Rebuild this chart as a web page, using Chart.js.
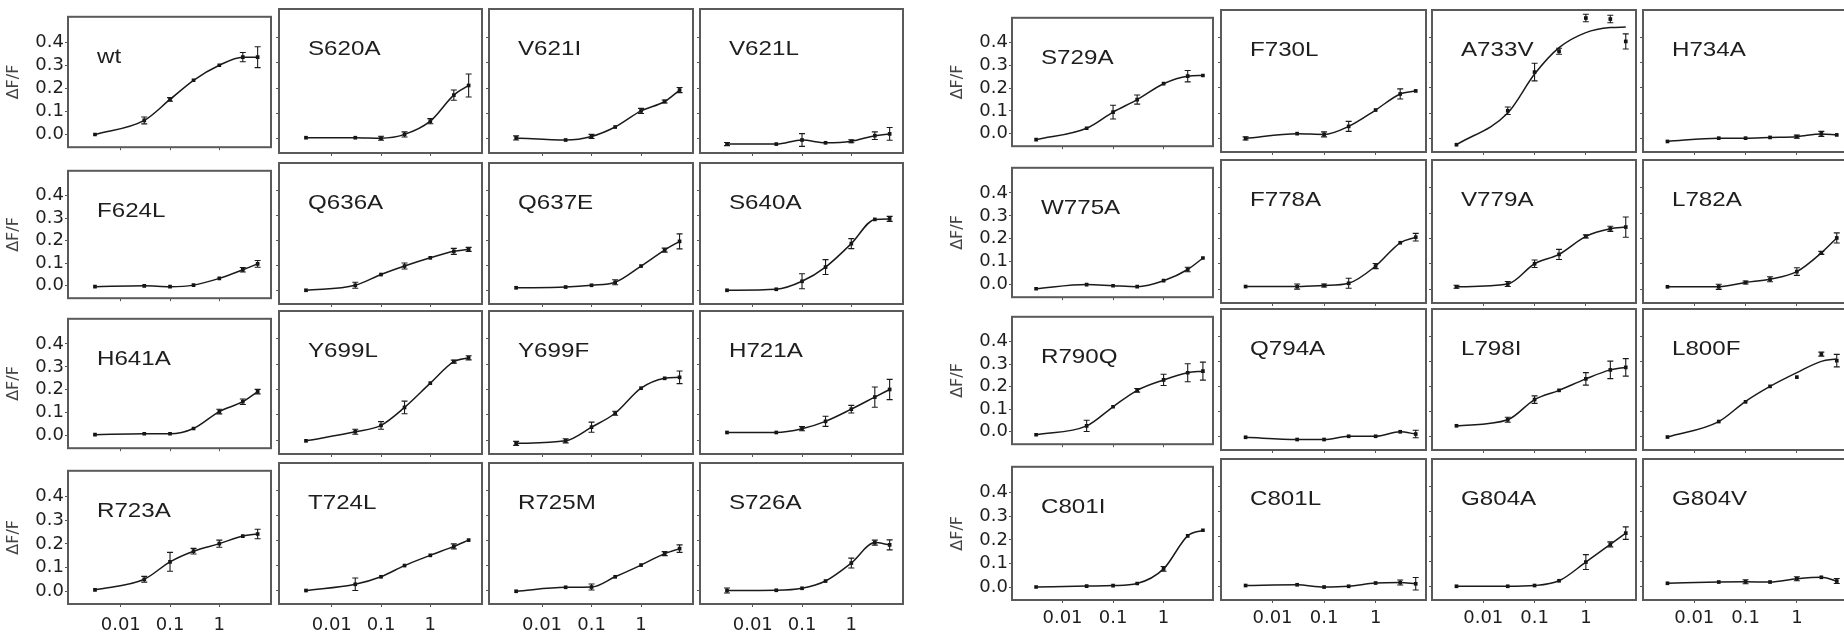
<!DOCTYPE html>
<html>
<head>
<meta charset="utf-8">
<script src="https://cdn.jsdelivr.net/npm/chart.js@4.4.0/dist/chart.umd.min.js"></script>
<style>
  html, body { margin: 0; padding: 0; background: #fff; overflow: hidden; }
  #fig { position: relative; width: 1844px; height: 639px; overflow: hidden; }
  #fig canvas { position: absolute; }
</style>
</head>
<body>
<div id="fig"></div>
<script>
// concentrations (log x axis) and tick labels
const concentrations = [0.003, 0.03, 0.1, 0.3, 1, 3, 6];
const xTickValues = [0.01, 0.1, 1];
const yTickValues = [0, 0.1, 0.2, 0.3, 0.4];

// panel order: left block row by row, then right block row by row
const panelNames = [
  "wt", "S620A", "V621I", "V621L",
  "F624L", "Q636A", "Q637E", "S640A",
  "H641A", "Y699L", "Y699F", "H721A",
  "R723A", "T724L", "R725M", "S726A",
  "S729A", "F730L", "A733V", "H734A",
  "W775A", "F778A", "V779A", "L782A",
  "R790Q", "Q794A", "L798I", "L800F",
  "C801I", "C801L", "G804A", "G804V"
];

// mean dF/F for each panel, one value per concentration
const meanValues = [
  [0.0, 0.061, 0.152, 0.235, 0.30, 0.335, 0.335],
  [0.005, 0.005, 0.003, 0.018, 0.07, 0.172, 0.21],
  [0.004, -0.004, 0.01, 0.047, 0.11, 0.147, 0.192],
  [-0.02, -0.02, -0.004, -0.015, -0.009, 0.013, 0.02],
  [-0.004, 0.0, -0.004, 0.003, 0.033, 0.071, 0.097],
  [0.0, 0.02, 0.063, 0.097, 0.13, 0.156, 0.164],
  [0.01, 0.013, 0.02, 0.032, 0.097, 0.161, 0.196],
  [0.0, 0.004, 0.036, 0.093, 0.187, 0.284, 0.286],
  [0.004, 0.008, 0.008, 0.031, 0.105, 0.148, 0.192],
  [-0.003, 0.033, 0.058, 0.129, 0.225, 0.31, 0.325],
  [-0.013, -0.003, 0.051, 0.106, 0.205, 0.244, 0.248],
  [0.03, 0.03, 0.045, 0.074, 0.122, 0.17, 0.2],
  [0.005, 0.05, 0.124, 0.169, 0.201, 0.233, 0.242],
  [-0.001, 0.024, 0.054, 0.099, 0.14, 0.176, 0.201],
  [-0.004, 0.012, 0.013, 0.054, 0.101, 0.147, 0.167],
  [-0.001, 0.0, 0.008, 0.037, 0.109, 0.191, 0.182],
  [-0.026, 0.024, 0.095, 0.15, 0.22, 0.253, 0.256],
  [-0.001, 0.018, 0.015, 0.047, 0.112, 0.176, 0.188],
  [-0.026, 0.109, 0.263, 0.346, 0.478, 0.474, 0.385],
  [-0.013, 0.0, 0.0, 0.003, 0.006, 0.017, 0.013],
  [-0.018, 0.0, -0.005, -0.009, 0.017, 0.066, 0.116],
  [0.01, 0.01, 0.014, 0.023, 0.091, 0.183, 0.205],
  [0.009, 0.02, 0.1, 0.137, 0.208, 0.238, 0.245],
  [0.009, 0.009, 0.026, 0.039, 0.069, 0.143, 0.202],
  [-0.013, 0.026, 0.111, 0.184, 0.23, 0.262, 0.269],
  [-0.004, -0.013, -0.013, 0.0, 0.0, 0.018, 0.009],
  [0.042, 0.066, 0.147, 0.184, 0.23, 0.266, 0.276],
  [-0.003, 0.059, 0.138, 0.2, 0.237, 0.329, 0.303],
  [0.0, 0.004, 0.006, 0.015, 0.077, 0.217, 0.241],
  [0.003, 0.006, -0.003, 0.0, 0.013, 0.015, 0.01],
  [0.0, 0.0, 0.003, 0.022, 0.097, 0.168, 0.213],
  [0.012, 0.017, 0.018, 0.017, 0.03, 0.036, 0.021]
];

// error bar half-heights
const errorValues = [
  [0.004, 0.015, 0.008, 0.006, 0.005, 0.02, 0.045],
  [0.003, 0.003, 0.008, 0.01, 0.01, 0.02, 0.045],
  [0.008, 0.004, 0.008, 0.004, 0.01, 0.006, 0.01],
  [0.006, 0.004, 0.025, 0.003, 0.006, 0.015, 0.025],
  [0.004, 0.003, 0.004, 0.003, 0.005, 0.01, 0.015],
  [0.004, 0.012, 0.006, 0.012, 0.006, 0.012, 0.008],
  [0.004, 0.006, 0.004, 0.01, 0.006, 0.008, 0.03],
  [0.003, 0.004, 0.03, 0.03, 0.02, 0.005, 0.01],
  [0.006, 0.004, 0.005, 0.005, 0.01, 0.012, 0.01],
  [0.005, 0.01, 0.015, 0.025, 0.004, 0.006, 0.008],
  [0.008, 0.008, 0.02, 0.008, 0.005, 0.005, 0.025],
  [0.004, 0.003, 0.008, 0.02, 0.015, 0.04, 0.04],
  [0.003, 0.012, 0.04, 0.012, 0.015, 0.004, 0.02],
  [0.003, 0.025, 0.005, 0.004, 0.004, 0.01, 0.004],
  [0.002, 0.006, 0.012, 0.006, 0.004, 0.008, 0.015],
  [0.01, 0.005, 0.005, 0.005, 0.02, 0.01, 0.02],
  [0.004, 0.003, 0.03, 0.02, 0.004, 0.025, 0.006],
  [0.006, 0.005, 0.01, 0.02, 0.004, 0.02, 0.005],
  [0.004, 0.015, 0.035, 0.012, 0.015, 0.015, 0.03],
  [0.002, 0.003, 0.003, 0.003, 0.006, 0.01, 0.005],
  [0.004, 0.004, 0.004, 0.006, 0.004, 0.01, 0.004],
  [0.004, 0.01, 0.006, 0.02, 0.01, 0.004, 0.015],
  [0.006, 0.01, 0.015, 0.02, 0.006, 0.01, 0.04],
  [0.003, 0.01, 0.006, 0.01, 0.015, 0.006, 0.02],
  [0.003, 0.025, 0.006, 0.008, 0.025, 0.04, 0.04],
  [0.003, 0.003, 0.005, 0.004, 0.005, 0.004, 0.015],
  [0.005, 0.01, 0.015, 0.005, 0.025, 0.035, 0.035],
  [0.004, 0.004, 0.004, 0.004, 0.006, 0.008, 0.025],
  [0.005, 0.003, 0.004, 0.004, 0.01, 0.004, 0.004],
  [0.005, 0.006, 0.003, 0.003, 0.006, 0.01, 0.025],
  [0.003, 0.003, 0.004, 0.005, 0.03, 0.01, 0.025],
  [0.004, 0.004, 0.008, 0.005, 0.008, 0.004, 0.01]
];

// fitted curves that do not run through the means
const fitA733V = [-0.026, 0.1, 0.255, 0.36, 0.42, 0.44, 0.442];
const fitL800F = [-0.003, 0.059, 0.14, 0.2, 0.255, 0.3, 0.31];
const fitCurves = { A733V: fitA733V, L800F: fitL800F };

Chart.defaults.font.family = "'DejaVu Sans', sans-serif";
Chart.defaults.color = "#222";

const fig = document.getElementById("fig");

// plot-area boxes of the two 4x4 blocks
const blocks = [
  { cols: [[68, 272], [279, 483], [489, 694], [700, 904]],
    rows: [[8, 153], [162, 304], [310, 454], [462, 604]],
    xMin: 0.00085, xMax: 11.2, labelPad: 8 },
  { cols: [[1012, 1214], [1221, 1427], [1432, 1637], [1643, 1848]],
    rows: [[9, 152], [159, 303], [308, 450], [458, 600]],
    xMin: 0.001, xMax: 9.5, labelPad: 5 }
];

const panelPlugin = {
  id: "panelDeco",
  afterDatasetsDraw(chart, args, opts) {
    const ctx = chart.ctx, a = chart.chartArea;
    const xs = chart.scales.x, ys = chart.scales.y;
    const means = meanValues[opts.idx], errs = errorValues[opts.idx];
    ctx.save();
    ctx.strokeStyle = "#1a1a1a";
    ctx.lineWidth = 1.1;
    concentrations.forEach((c, k) => {
      const px = xs.getPixelForValue(c);
      const top = ys.getPixelForValue(means[k] + errs[k]);
      const bot = ys.getPixelForValue(means[k] - errs[k]);
      if (bot - top < 3) return;
      ctx.beginPath();
      ctx.moveTo(px, top); ctx.lineTo(px, bot);
      ctx.moveTo(px - 3, top); ctx.lineTo(px + 3, top);
      ctx.moveTo(px - 3, bot); ctx.lineTo(px + 3, bot);
      ctx.stroke();
    });
    // panel frame
    ctx.strokeStyle = "#5a5a5a";
    ctx.lineWidth = 2;
    ctx.strokeRect(a.left, a.top, a.right - a.left, a.bottom - a.top);
    // panel name
    ctx.fillStyle = "#1e1e1e";
    ctx.font = "21px 'Liberation Sans', Arial, sans-serif";
    ctx.textBaseline = "alphabetic";
    ctx.translate(a.left + 29, a.top + 46);
    ctx.scale(1.15, 1);
    ctx.fillText(panelNames[opts.idx], 0, 0);
    ctx.restore();
  }
};

function makePanel(idx, box, block, showY, showX) {
  const [plotL, plotR] = box.col, [plotT, plotB] = box.row;
  const padL = showY ? 67 : 6, padB = showX ? 38 : 6, padT = 3, padR = 3;
  const w = plotR - plotL + padL + padR, h = plotB - plotT + padT + padB;
  const cv = document.createElement("canvas");
  cv.width = w; cv.height = h;
  cv.style.left = (plotL - padL) + "px";
  cv.style.top = (plotT - padT) + "px";
  cv.style.width = w + "px";
  cv.style.height = h + "px";
  fig.appendChild(cv);

  const name = panelNames[idx];
  const fit = fitCurves[name] || meanValues[idx];

  new Chart(cv, {
    type: "line",
    data: {
      datasets: [
        {
          data: concentrations.map((c, k) => ({ x: c, y: fit[k] })),
          borderColor: "#1a1a1a",
          borderWidth: 1.5,
          pointRadius: 0,
          cubicInterpolationMode: "monotone",
          fill: false,
        },
        {
          data: concentrations.map((c, k) => ({ x: c, y: meanValues[idx][k] })),
          showLine: false,
          pointStyle: "rect",
          pointRadius: 2.6,
          backgroundColor: "#111",
          borderColor: "#111",
          borderWidth: 0,
        },
      ],
    },
    options: {
      responsive: false,
      animation: false,
      events: [],
      layout: { padding: { left: 0, top: padT, right: padR, bottom: 0 } },
      plugins: {
        legend: { display: false },
        tooltip: { enabled: false },
        panelDeco: { idx: idx },
      },
      scales: {
        x: {
          type: "logarithmic",
          min: block.xMin,
          max: block.xMax,
          afterBuildTicks: (s) => { s.ticks = xTickValues.map((v) => ({ value: v })); },
          afterFit: (s) => { s.height = padB; },
          border: { display: false },
          grid: { drawOnChartArea: false, drawTicks: true, tickLength: 3, color: "#555" },
          ticks: {
            display: showX,
            autoSkip: false,
            maxRotation: 0,
            padding: block.labelPad,
            font: { size: 18 },
            color: "#1e1e1e",
            callback: (v) => String(v),
          },
        },
        y: {
          min: -0.055,
          max: 0.51,
          afterBuildTicks: (s) => { s.ticks = yTickValues.map((v) => ({ value: v })); },
          afterFit: (s) => { s.width = padL; },
          border: { display: false },
          grid: { drawOnChartArea: false, drawTicks: true, tickLength: 3, color: "#555" },
          ticks: {
            display: showY,
            padding: 1,
            font: { size: 18 },
            color: "#1e1e1e",
            callback: (v) => Number(v).toFixed(1),
          },
          title: {
            display: showY,
            text: "ΔF/F",
            font: { size: 16 },
            color: "#444",
            padding: { top: 3, bottom: 0 },
          },
        },
      },
    },
    plugins: [panelPlugin],
  });
}

blocks.forEach((block, b) => {
  block.rows.forEach((row, r) => {
    block.cols.forEach((col, c) => {
      const idx = b * 16 + r * 4 + c;
      makePanel(idx, { col: col, row: row }, block, c === 0, r === 3);
    });
  });
});
</script>
</body>
</html>
